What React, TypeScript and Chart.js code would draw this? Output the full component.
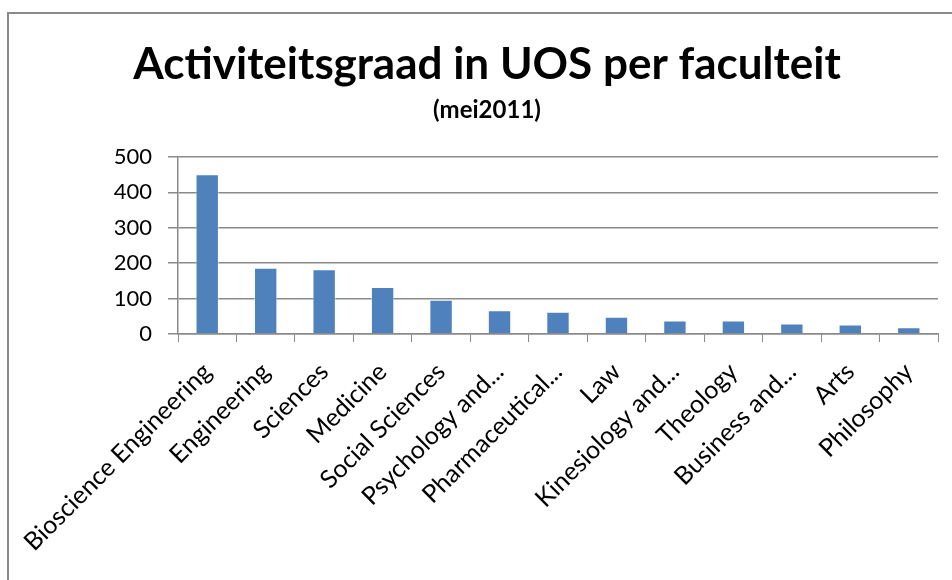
import React, { useEffect, useRef } from "react";
import { Chart, registerables } from "chart.js";

Chart.register(...registerables);

const categories = [
  "Bioscience Engineering",
  "Engineering",
  "Sciences",
  "Medicine",
  "Social Sciences",
  "Psychology and...",
  "Pharmaceutical...",
  "Law",
  "Kinesiology and...",
  "Theology",
  "Business and...",
  "Arts",
  "Philosophy",
];
const values = [451, 187, 183, 133, 97, 67, 63, 49, 38, 38, 30, 27, 19];
const yTicks = [0, 100, 200, 300, 400, 500];
const titleText = "Activiteitsgraad in UOS per faculteit";
const subtitleText = "(mei2011)";

const FONT = "Lato, 'Open Sans', sans-serif";

const framePlugin = {
  id: "frame",
  beforeDraw(chart: any) {
    const ctx = chart.ctx;
    ctx.save();
    ctx.fillStyle = "#ffffff";
    ctx.fillRect(0, 0, chart.width, chart.height);
    ctx.strokeStyle = "#8a8a8a";
    ctx.lineWidth = 2;
    ctx.beginPath();
    ctx.moveTo(chart.width, 13);
    ctx.lineTo(8, 13);
    ctx.lineTo(8, chart.height);
    ctx.stroke();
    ctx.fillStyle = "#000000";
    ctx.textAlign = "center";
    ctx.textBaseline = "alphabetic";
    ctx.font = `bold 44px ${FONT}`;
    ctx.fillText(titleText, 487, 79);
    ctx.font = `bold 24px ${FONT}`;
    ctx.fillText(subtitleText, 487, 118);
    ctx.restore();
  },
};

export default function App() {
  const ref = useRef<HTMLCanvasElement>(null);
  useEffect(() => {
    if (!ref.current) return;
    const chart = new Chart(ref.current, {
      type: "bar",
      data: {
        labels: categories,
        datasets: [
          {
            data: values,
            backgroundColor: "#4F81BD",
            borderColor: "rgba(255,255,255,0.45)",
            borderWidth: 1,
            barPercentage: 0.4,
            categoryPercentage: 1,
          },
        ],
      },
      options: {
        animation: false,
        responsive: false,
        maintainAspectRatio: false,
        layout: { padding: { top: 157, left: 0, right: 14, bottom: 0 } },
        plugins: {
          legend: { display: false },
          title: { display: false },
          tooltip: { enabled: false },
        },
        scales: {
          x: {
            afterFit(scale: any) {
              scale.height = 246;
            },
            grid: {
              display: true,
              offset: true,
              drawOnChartArea: false,
              drawTicks: true,
              tickLength: 8,
              color: "#8a8a8a",
            },
            border: { display: true, color: "#8a8a8a", width: 1.5 },
            ticks: {
              minRotation: 45,
              maxRotation: 45,
              autoSkip: false,
              padding: 15,
              color: "#000000",
              font: { family: FONT, size: 25 },
            },
          },
          y: {
            min: 0,
            max: 500,
            afterFit(scale: any) {
              scale.width = 178;
            },
            afterBuildTicks(scale: any) {
              scale.ticks = yTicks.map((v) => ({ value: v }));
            },
            grid: {
              color: "#8a8a8a",
              lineWidth: 1.5,
              tickLength: 10,
            },
            border: { display: true, color: "#8a8a8a", width: 1.5 },
            ticks: {
              padding: 16,
              color: "#000000",
              font: { family: FONT, size: 22 },
            },
          },
        },
      },
      plugins: [framePlugin],
    });
    return () => chart.destroy();
  }, []);
  return (
    <div style={{ position: "fixed", left: 0, top: 0, width: 952, height: 580 }}>
      <canvas ref={ref} width={952} height={580} style={{ width: 952, height: 580 }} />
    </div>
  );
}
